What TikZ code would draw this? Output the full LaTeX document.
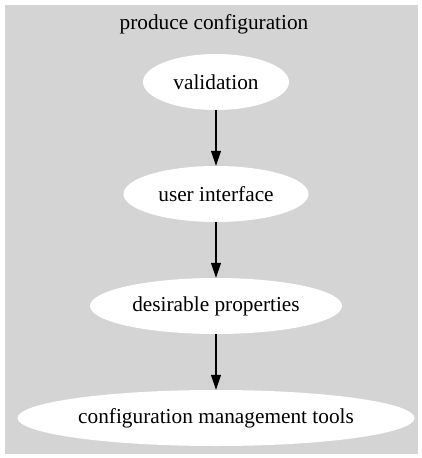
\documentclass[tikz,border=0pt]{standalone}
\usepackage{fontspec}
\setmainfont{Liberation Serif}
\usetikzlibrary{arrows.meta, shapes.geometric}

\begin{document}
\begin{tikzpicture}[x=1pt, y=-1pt, >={Triangle[length=15pt,width=10pt]}]
    \tikzstyle{task}=[ellipse,fill=white,inner sep=0pt,minimum height=56pt,font=\fontsize{21.3}{25}\selectfont]
    \tikzstyle{flow}=[->,black,line width=1.2pt]
  % page and cluster
  \useasboundingbox (0,0) rectangle (421,458);
  \fill[white] (0,0) rectangle (421,458);
  \fill[black!17] (5,5) rectangle (418,454);
  \node (title) at (214,24) [font=\fontsize{21.3}{25}\selectfont] {produce configuration};

  \node (val) at (216,82)  [task, minimum width=146pt] {validation};
  \node (ui)  at (216,194) [task, minimum width=185pt] {user interface};
  \node (dp)  at (216,306) [task, minimum width=252pt] {desirable properties};
  \node (cmt) at (216,418) [task, minimum width=397pt] {configuration management tools};

  \draw[flow] (val) to (ui);
  \draw[flow] (ui) to (dp);
  \draw[flow] (dp) to (cmt);
\end{tikzpicture}
\end{document}
